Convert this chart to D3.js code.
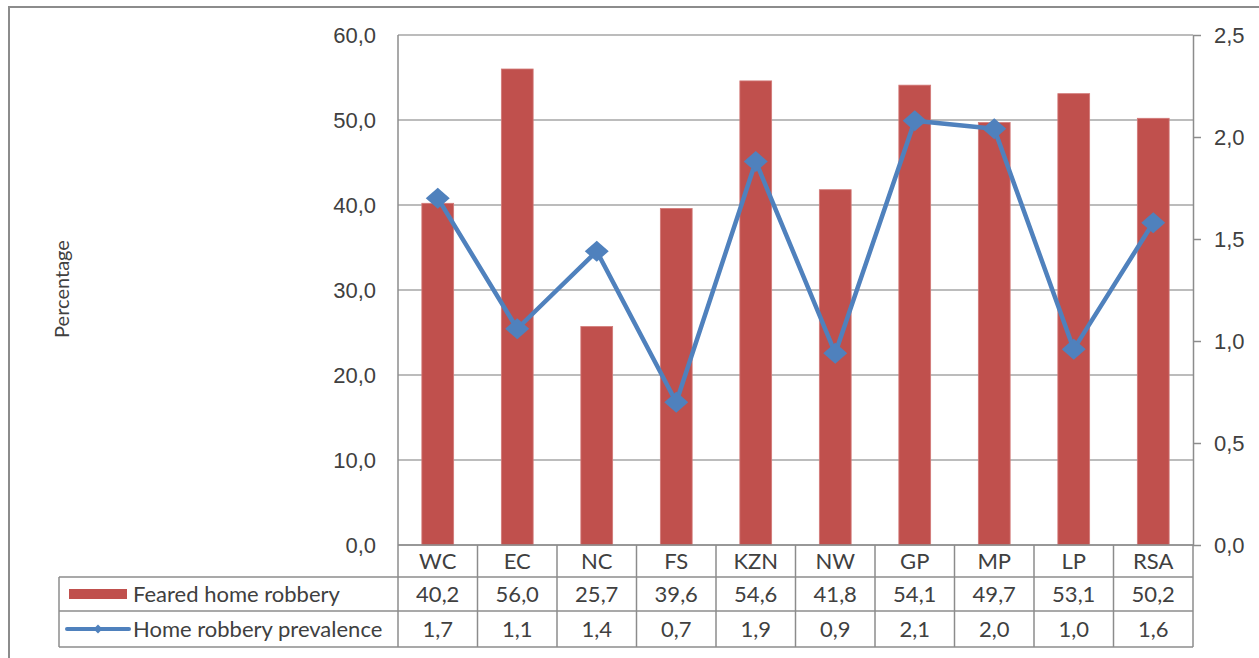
<!DOCTYPE html>
<html>
<head>
<meta charset="utf-8">
<script src="https://cdn.jsdelivr.net/npm/d3@7"></script>
<style>
  html, body { margin: 0; padding: 0; background: #ffffff; }
  svg { display: block; font-family: Lato, "Liberation Sans", sans-serif; }
  .lbl { fill: #404040; font-size: 22px; }
</style>
</head>
<body>
<svg id="chart" width="1259" height="658"></svg>
<script>
// Provinces / regions shown along the category axis
const categories = ["WC", "EC", "NC", "FS", "KZN", "NW", "GP", "MP", "LP", "RSA"];
// Feared home robbery, percentage (left axis)
const fearedHomeRobbery = [40.2, 56.0, 25.7, 39.6, 54.6, 41.8, 54.1, 49.7, 53.1, 50.2];
// Home robbery prevalence, percentage (right axis)
const homeRobberyPrevalence = [1.70, 1.06, 1.44, 0.70, 1.88, 0.94, 2.08, 2.04, 0.96, 1.58];
// Axis tick values
const leftTicks = [0, 10, 20, 30, 40, 50, 60];
const rightTicks = [0, 0.5, 1.0, 1.5, 2.0, 2.5];
const seriesNames = ["Feared home robbery", "Home robbery prevalence"];
const yTitle = "Percentage";

const BAR = "#C0504D", LINE = "#4F81BD", GRID = "#A6A6A6", AXIS = "#8C8C8C";

const locale = d3.formatLocale({ decimal: ",", thousands: ".", grouping: [3], currency: ["", ""] });
const fmt = locale.format(".1f");

const svg = d3.select("#chart");
const L = 398, R = 1193, T = 35, B = 545;
const rowEdges = [B, 577, 611, 647];
const tableLeft = 59;

const x = d3.scaleBand().domain(categories).range([L, R]).padding(0);
const xBar = d3.scaleBand().domain(categories).range([L, R]).paddingInner(0.6).paddingOuter(0.3);
const yL = d3.scaleLinear().domain([0, 60]).range([B, T]);
const yR = d3.scaleLinear().domain([0, 2.5]).range([B, T]);

// outer frame (top and left edges)
svg.append("path")
  .attr("d", `M9,658 V7 H1259`)
  .attr("fill", "none").attr("stroke", AXIS).attr("stroke-width", 2);

// horizontal gridlines from the left axis
svg.append("g").selectAll("line").data(leftTicks).join("line")
  .attr("x1", L).attr("x2", R)
  .attr("y1", d => yL(d)).attr("y2", d => yL(d))
  .attr("stroke", GRID).attr("stroke-width", 1.5);

// left axis labels (no tick marks)
const gL = svg.append("g").attr("transform", `translate(${L},0)`)
  .call(d3.axisLeft(yL).tickValues(leftTicks).tickFormat(fmt).tickSize(0).tickPadding(22));
gL.select(".domain").remove();
gL.selectAll("text").attr("class", "lbl").attr("font-family", null).attr("font-size", null);

// right axis with outward ticks
const gR = svg.append("g").attr("transform", `translate(${R},0)`)
  .call(d3.axisRight(yR).tickValues(rightTicks).tickFormat(fmt).tickSize(8).tickSizeOuter(0).tickPadding(13));
gR.select(".domain").attr("stroke", AXIS).attr("stroke-width", 1.5);
gR.selectAll(".tick line").attr("stroke", AXIS).attr("stroke-width", 1.5);
gR.selectAll("text").attr("class", "lbl").attr("font-family", null).attr("font-size", null);

// bars
svg.append("g").selectAll("rect").data(categories).join("rect")
  .attr("x", d => xBar(d))
  .attr("width", xBar.bandwidth())
  .attr("y", (d, i) => yL(fearedHomeRobbery[i]))
  .attr("height", (d, i) => B - yL(fearedHomeRobbery[i]))
  .attr("fill", BAR)
  .attr("stroke", "#D27A78").attr("stroke-width", 0.8);

// prevalence line + diamond markers
const pts = categories.map((c, i) => [x(c) + x.bandwidth() / 2, yR(homeRobberyPrevalence[i])]);
svg.append("path")
  .attr("d", d3.line()(pts))
  .attr("fill", "none").attr("stroke", LINE).attr("stroke-width", 4.5)
  .attr("stroke-linejoin", "round");
const diamond = (w, h) => `M0,${-h} L${w},0 L0,${h} L${-w},0 Z`;
svg.append("g").selectAll("path").data(pts).join("path")
  .attr("transform", d => `translate(${d[0]},${d[1]})`)
  .attr("d", diamond(12, 10.5))
  .attr("fill", LINE);

// left axis line, continuing down through the data table
svg.append("line").attr("x1", L).attr("x2", L).attr("y1", T).attr("y2", rowEdges[3])
  .attr("stroke", AXIS).attr("stroke-width", 1.5);
// right axis continues down through the table
svg.append("line").attr("x1", R).attr("x2", R).attr("y1", B).attr("y2", rowEdges[3])
  .attr("stroke", AXIS).attr("stroke-width", 1.5);

// data table grid
const tg = svg.append("g").attr("stroke", AXIS).attr("stroke-width", 1.5);
tg.append("line").attr("x1", L).attr("x2", R).attr("y1", B).attr("y2", B);
[rowEdges[1], rowEdges[2], rowEdges[3]].forEach(yv =>
  tg.append("line").attr("x1", tableLeft).attr("x2", R).attr("y1", yv).attr("y2", yv));
tg.append("line").attr("x1", tableLeft).attr("x2", tableLeft).attr("y1", rowEdges[1]).attr("y2", rowEdges[3]);
tg.selectAll(".sep").data(categories.slice(1)).join("line")
  .attr("x1", d => x(d)).attr("x2", d => x(d))
  .attr("y1", B).attr("y2", rowEdges[3]);

const rowMid = i => (rowEdges[i] + rowEdges[i + 1]) / 2;

// category header row
svg.append("g").selectAll("text").data(categories).join("text")
  .attr("class", "lbl").attr("text-anchor", "middle").attr("dy", "0.35em")
  .attr("x", d => x(d) + x.bandwidth() / 2).attr("y", rowMid(0))
  .text(d => d);

// value rows
[fearedHomeRobbery, homeRobberyPrevalence].forEach((vals, r) => {
  svg.append("g").selectAll("text").data(vals).join("text")
    .attr("class", "lbl").attr("text-anchor", "middle").attr("dy", "0.35em")
    .attr("x", (d, i) => x(categories[i]) + x.bandwidth() / 2).attr("y", rowMid(r + 1))
    .text(d => fmt(d));
});

// legend keys inside the table
svg.append("rect").attr("x", 69).attr("y", rowMid(1) - 5).attr("width", 58).attr("height", 10).attr("fill", BAR);
svg.append("line").attr("x1", 67).attr("x2", 129).attr("y1", rowMid(2)).attr("y2", rowMid(2))
  .attr("stroke", LINE).attr("stroke-width", 4).attr("stroke-linecap", "round");
svg.append("path").attr("transform", `translate(98,${rowMid(2)})`).attr("d", diamond(4.5, 4.5)).attr("fill", LINE);
seriesNames.forEach((n, i) => {
  svg.append("text").attr("class", "lbl").attr("x", 133).attr("y", rowMid(i + 1)).attr("dy", "0.35em").text(n);
});

// axis title
svg.append("text").attr("class", "lbl").attr("text-anchor", "middle")
  .attr("transform", `translate(62,289) rotate(-90)`).attr("dy", "0.35em")
  .style("font-size", "20px")
  .text(yTitle);
</script>
</body>
</html>
